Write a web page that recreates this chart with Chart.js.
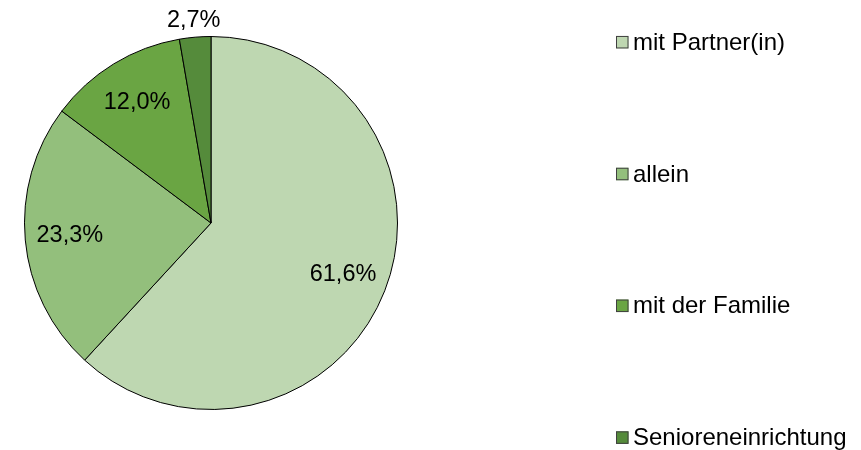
<!DOCTYPE html>
<html>
<head>
<meta charset="utf-8">
<script src="https://cdn.jsdelivr.net/npm/chart.js@4/dist/chart.umd.min.js"></script>
<style>
  html, body { margin: 0; padding: 0; background: #ffffff; }
  #wrap { width: 861px; height: 450px; position: relative; }
</style>
</head>
<body>
<div id="wrap"><canvas id="c" width="861" height="450"></canvas></div>
<script>
const categories = ['mit Partner(in)', 'allein', 'mit der Familie', 'Senioreneinrichtung'];
const values = [61.6, 23.3, 12.0, 2.7];
const valueLabels = ['61,6%', '23,3%', '12,0%', '2,7%'];
const colors = ['#BED7B1', '#93BF7C', '#6AA543', '#558B3B'];

const labelPlugin = {
  id: 'sliceLabels',
  afterDatasetsDraw(chart) {
    const ctx = chart.ctx;
    const meta = chart.getDatasetMeta(0);
    ctx.save();
    ctx.font = '23.5px "Liberation Sans", Arial, sans-serif';
    ctx.fillStyle = '#000000';
    ctx.textAlign = 'center';
    ctx.textBaseline = 'middle';
    meta.data.forEach((arc, i) => {
      const p = arc.getProps(['x', 'y', 'startAngle', 'endAngle', 'outerRadius'], true);
      const mid = (p.startAngle + p.endAngle) / 2;
      const r = values[i] < 5 ? p.outerRadius + 17 : p.outerRadius * 0.76;
      ctx.fillText(valueLabels[i], p.x + Math.cos(mid) * r, p.y + Math.sin(mid) * r);
    });
    ctx.restore();
  }
};

const legendPlugin = {
  id: 'sideLegend',
  afterDraw(chart) {
    const ctx = chart.ctx;
    const boxX = 616, box = 12.5, textX = 633, startY = 42.2, step = 131.8;
    ctx.save();
    ctx.font = '24px "Liberation Sans", Arial, sans-serif';
    ctx.textBaseline = 'middle';
    ctx.textAlign = 'left';
    chart.data.labels.forEach((lab, i) => {
      const cy = startY + i * step;
      ctx.fillStyle = chart.data.datasets[0].backgroundColor[i];
      ctx.fillRect(boxX, cy - box / 2, box, box);
      ctx.strokeStyle = '#404040';
      ctx.lineWidth = 1;
      ctx.strokeRect(boxX + 0.5, cy - box / 2 + 0.5, box - 1, box - 1);
      ctx.fillStyle = '#000000';
      ctx.fillText(lab, textX, cy + 1);
    });
    ctx.restore();
  }
};

new Chart(document.getElementById('c'), {
  type: 'pie',
  data: {
    labels: categories,
    datasets: [{
      data: values,
      backgroundColor: colors,
      borderColor: '#000000',
      borderWidth: 1
    }]
  },
  options: {
    responsive: false,
    animation: false,
    layout: { padding: { left: 24, top: 36, right: 463, bottom: 40 } },
    plugins: {
      legend: { display: false },
      tooltip: { enabled: false }
    }
  },
  plugins: [labelPlugin, legendPlugin]
});
</script>
</body>
</html>
